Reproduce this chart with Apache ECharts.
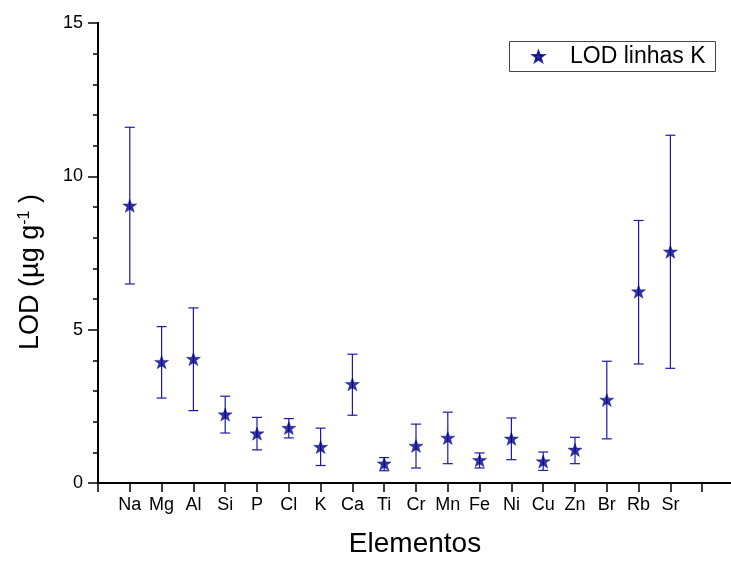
<!DOCTYPE html>
<html>
<head>
<meta charset="utf-8">
<script src="https://cdn.jsdelivr.net/npm/echarts@6/dist/echarts.min.js"></script>
<style>html,body{margin:0;padding:0;background:#fff}#c{width:731px;height:561px}</style>
</head>
<body>
<div id="c"></div>
<script>
var categories = ['Na','Mg','Al','Si','P','Cl','K','Ca','Ti','Cr','Mn','Fe','Ni','Cu','Zn','Br','Rb','Sr'];
var lodValues  = [9.04, 3.94, 4.04, 2.23, 1.61, 1.79, 1.17, 3.22, 0.63, 1.21, 1.47, 0.74, 1.44, 0.70, 1.08, 2.71, 6.24, 7.54];
var errLow     = [6.49, 2.77, 2.36, 1.63, 1.08, 1.47, 0.57, 2.21, 0.40, 0.49, 0.63, 0.49, 0.76, 0.41, 0.63, 1.44, 3.88, 3.74];
var errHigh    = [11.60, 5.10, 5.71, 2.83, 2.14, 2.10, 1.79, 4.20, 0.83, 1.92, 2.31, 0.98, 2.12, 1.01, 1.49, 3.97, 8.56, 11.34];
var yTicks = [0, 5, 10, 15];
var seriesName = 'LOD linhas K';

var FONT = 'Liberation Sans, Arial, sans-serif';
var STAR = 'path://M50 0 L62 33.5 L98 33.5 L69.5 55 L80.5 92 L50 71 L19.5 92 L30.5 55 L2 33.5 L38 33.5 Z';
var BLUE = '#000088';
var ERR = '#1a1aac';

var scatterData = lodValues.map(function (v, i) { return [i + 1, v]; });
var errData = lodValues.map(function (v, i) { return [i + 1, errLow[i], errHigh[i]]; });

var chart = echarts.init(document.getElementById('c'), null, {renderer: 'canvas'});
var axisLineStyle = {color: '#000', width: 2};
var tickStyle = {color: '#000', width: 1.5};

chart.setOption({
  animation: false,
  backgroundColor: '#fff',
  grid: {left: 98, top: 23, width: 636, height: 460, outerBoundsMode: 'none', containLabel: false},
  legend: {
    left: 532, top: 45, padding: 0,
    itemWidth: 11, itemHeight: 11,
    data: [{name: seriesName, icon: STAR}],
    textStyle: {fontSize: 23, fontFamily: FONT, color: '#000', padding: [0, 0, 0, 21]}
  },
  xAxis: [
    {type: 'value', position: 'bottom', min: 0, max: 20, interval: 1,
     axisLine: {lineStyle: axisLineStyle}, splitLine: {show: false},
     axisTick: {inside: false, length: 9, lineStyle: tickStyle},
     axisLabel: {fontSize: 18, fontFamily: FONT, color: '#000', margin: 13,
       formatter: function (v) { return categories[v - 1] || ''; }}},
    {type: 'value', position: 'top', min: 0, max: 20, interval: 1,
     axisLine: {lineStyle: axisLineStyle}, splitLine: {show: false},
     axisTick: {inside: true, length: 9, lineStyle: tickStyle},
     axisLabel: {show: false}}
  ],
  yAxis: [
    {type: 'value', position: 'left', min: yTicks[0], max: yTicks[yTicks.length - 1], interval: 5,
     axisLine: {lineStyle: axisLineStyle}, splitLine: {show: false},
     axisTick: {inside: false, length: 10, lineStyle: tickStyle},
     minorTick: {show: true, splitNumber: 5, length: 5, lineStyle: {color: '#000', width: 1.5}},
     minorSplitLine: {show: false},
     axisLabel: {fontSize: 18, fontFamily: FONT, color: '#000', margin: 15}},
    {type: 'value', position: 'right', min: yTicks[0], max: yTicks[yTicks.length - 1], interval: 5,
     axisLine: {lineStyle: axisLineStyle}, splitLine: {show: false},
     axisTick: {inside: true, length: 10, lineStyle: tickStyle},
     minorTick: {show: true, splitNumber: 5, length: 5, lineStyle: {color: '#000', width: 1.5}},
     axisLabel: {show: false}}
  ],
  graphic: [
    {type: 'rect', shape: {x: 509.5, y: 41.5, width: 206, height: 30},
     style: {fill: null, stroke: '#444', lineWidth: 1}, z: 10},
    {type: 'text', x: 415, y: 544,
     style: {text: 'Elementos', font: '28px ' + FONT, fill: '#000', align: 'center', verticalAlign: 'middle'}},
    {type: 'text', x: 31, y: 272, rotation: Math.PI / 2,
     style: {text: 'LOD (µg g{sup|-1} )', fontSize: 27, fontFamily: FONT, fill: '#000',
       align: 'center', verticalAlign: 'middle',
       rich: {sup: {fontSize: 16, fontFamily: FONT, fill: '#000', verticalAlign: 'top', padding: [0, 0, 12, 0]}}}}
  ],
  series: [
    {type: 'custom', name: 'err', xAxisIndex: 0, yAxisIndex: 0, z: 2,
     data: errData,
     renderItem: function (params, api) {
       var x = api.value(0);
       var lo = api.coord([x, api.value(1)]);
       var hi = api.coord([x, api.value(2)]);
       var hw = 5;
       var st = {stroke: ERR, lineWidth: 1.2};
       return {type: 'group', children: [
         {type: 'line', shape: {x1: lo[0], y1: lo[1], x2: hi[0], y2: hi[1]}, style: st},
         {type: 'line', shape: {x1: lo[0] - hw, y1: lo[1], x2: lo[0] + hw, y2: lo[1]}, style: st},
         {type: 'line', shape: {x1: hi[0] - hw, y1: hi[1], x2: hi[0] + hw, y2: hi[1]}, style: st}
       ]};
     }},
    {type: 'scatter', name: seriesName, xAxisIndex: 0, yAxisIndex: 0, z: 3,
     symbol: STAR, symbolSize: [14, 13],
     itemStyle: {color: BLUE, borderColor: BLUE, borderWidth: 0.5},
     data: scatterData}
  ]
});
</script>
</body>
</html>
